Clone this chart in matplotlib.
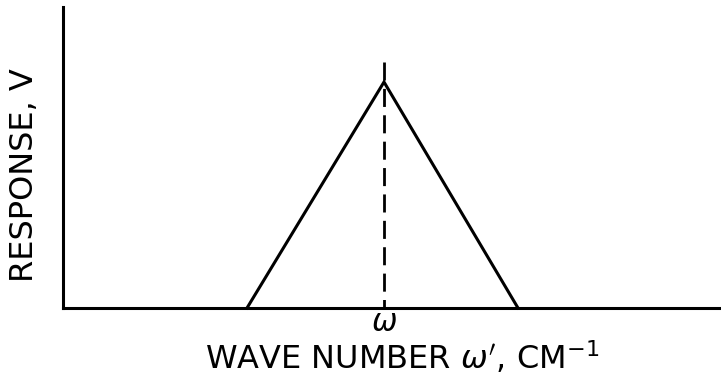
import matplotlib
matplotlib.use("Agg")
import matplotlib.pyplot as plt

plt.rcParams['lines.scale_dashes'] = False
plt.rcParams['mathtext.fontset'] = 'dejavusans'

# Triangular instrument response centred on the wave number omega
x_limits = [-321, 337]
y_limits = [0, 301]
response_x = [-137, 0, 134]
response_y = [0, 226, 0]
center_x = 0
center_line_top = 246
tick_positions = [0]
tick_labels = [r"$\omega$"]

fig = plt.figure(figsize=(7.21, 3.89), dpi=100)
ax = fig.add_axes([63 / 721, 81 / 389, 1 - 63 / 721, 301 / 389])

ax.plot(response_x, response_y, color="black", lw=2.2, solid_joinstyle="miter", clip_on=False)
ax.plot([center_x, center_x], [center_line_top, 0], color="black", lw=2.0,
        dashes=(13, 6), clip_on=False)

ax.set_xlim(x_limits)
ax.set_ylim(y_limits)
ax.spines["top"].set_visible(False)
ax.spines["right"].set_visible(False)
for s in ("left", "bottom"):
    ax.spines[s].set_linewidth(2.2)
ax.set_yticks([])
ax.set_xticks(tick_positions)
ax.set_xticklabels(tick_labels, fontsize=22)
ax.tick_params(axis="x", length=0, pad=0)

ax.set_xlabel(r"WAVE NUMBER $\omega'$, CM$^{-1}$", fontsize=23)
ax.set_ylabel("RESPONSE, V", fontsize=23)
ax.yaxis.set_label_coords(-0.058, 0.44)
ax.yaxis.label.set_va("center")
ax.yaxis.label.set_ha("center")
ax.xaxis.set_label_coords(0.515, -0.105)
ax.xaxis.label.set_va("top")

fig.savefig("out.png", dpi=100)
